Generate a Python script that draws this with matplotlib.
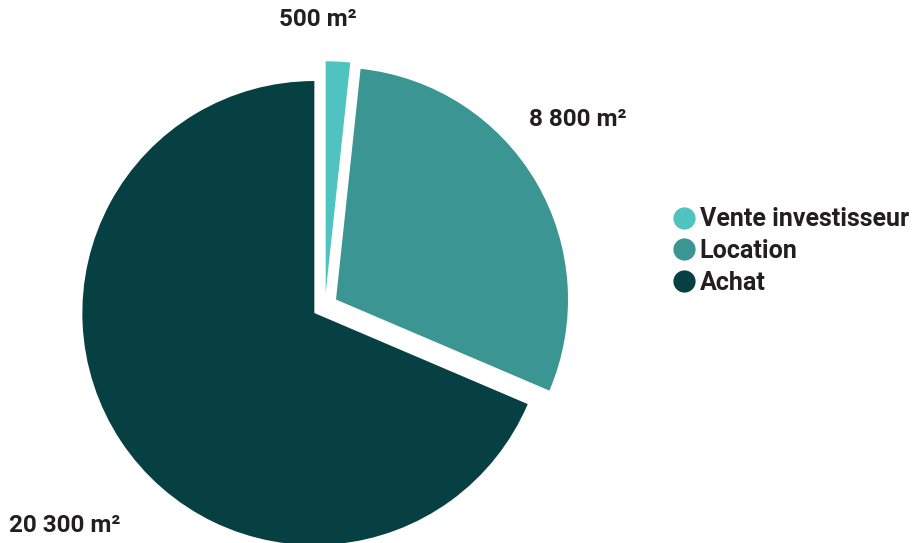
import matplotlib.pyplot as plt
from matplotlib.lines import Line2D

# Données
categories = ['Vente investisseur', 'Location', 'Achat']
surfaces = [500, 8800, 20300]
etiquettes = ['500 m²', '8 800 m²', '20 300 m²']
couleurs = ['#4fc3bf', '#3a9593', '#064043']

plt.rcParams['font.family'] = ['Roboto', 'DejaVu Sans']

fig = plt.figure(figsize=(9.15, 5.43), dpi=100)
ax = fig.add_axes([0, 0, 1, 1])

# centre du camembert et rayon en pixels
cx, cy, r = 325, 306, 232
W, H = 915, 543

wedges, _ = ax.pie(surfaces, colors=couleurs, startangle=90, counterclock=False,
                   explode=[0.055, 0.055, 0.055], radius=1,
                   wedgeprops=dict(linewidth=0))

ax.set_xlim(-cx / r, (W - cx) / r)
ax.set_ylim(-(H - cy) / r, cy / r)
ax.set_aspect('equal')
ax.axis('off')

# étiquettes des valeurs (position en fraction de la figure)
pos_etiquettes = [(318 / W, 1 - 20 / H), (578 / W, 1 - 120 / H), (65 / W, 1 - 525 / H)]
for txt, (x, y) in zip(etiquettes, pos_etiquettes):
    fig.text(x, y, txt, ha='center', va='center', fontsize=17.5,
             fontweight='bold', color='#231f20')

# légende
handles = [Line2D([0], [0], marker='o', linestyle='', markersize=16,
                  markerfacecolor=c, markeredgecolor='none') for c in couleurs]
leg = fig.legend(handles, categories, loc='center left',
                 bbox_to_anchor=(661 / W, 1 - 251 / H), frameon=False,
                 prop=dict(size=18, weight='bold'), handlelength=0.8,
                 handletextpad=0.25, labelspacing=0.3, borderpad=0)
for t in leg.get_texts():
    t.set_color('#231f20')

plt.savefig('out.png', dpi=100)
